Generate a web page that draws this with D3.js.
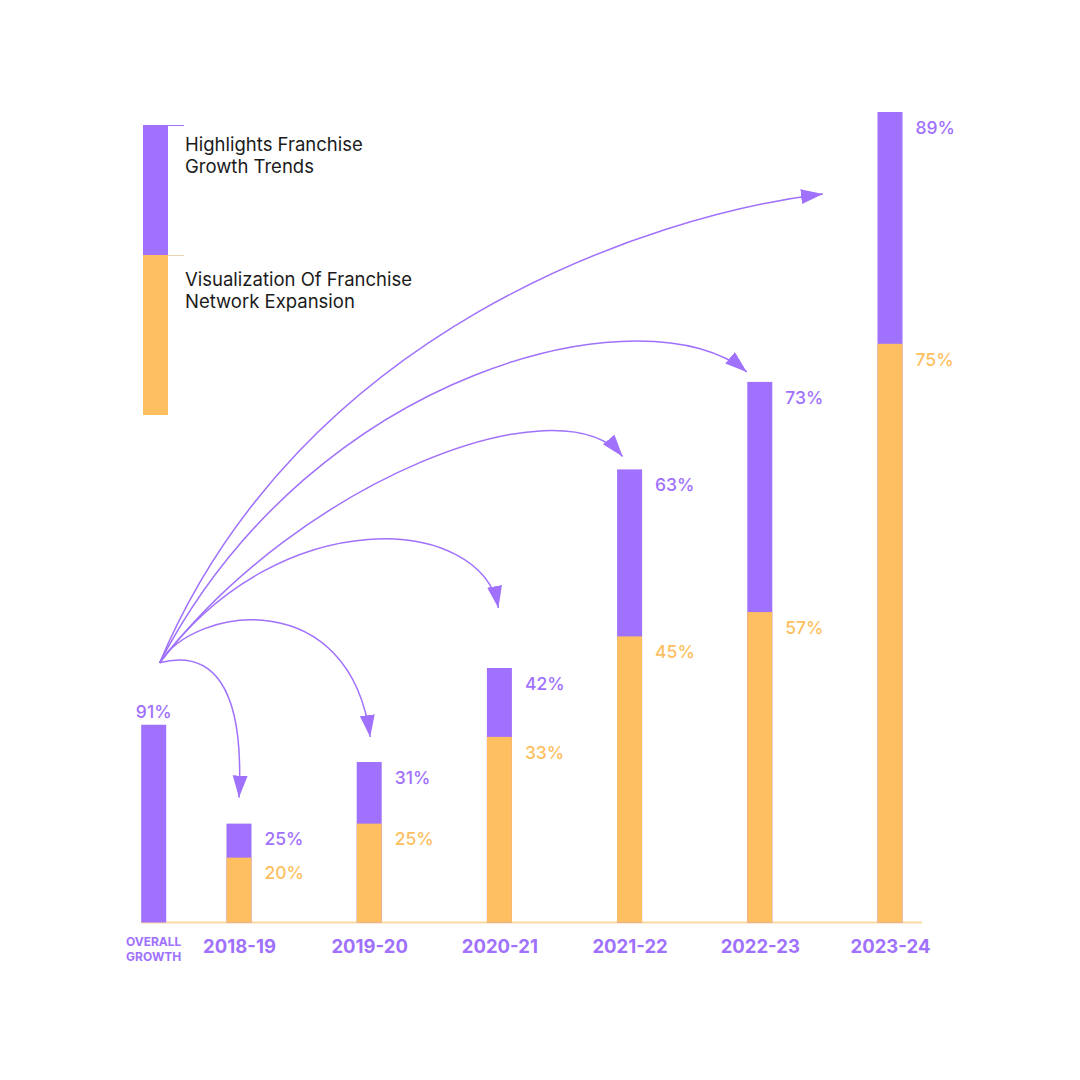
<!DOCTYPE html>
<html>
<head>
<meta charset="utf-8">
<script src="https://cdn.jsdelivr.net/npm/d3@7"></script>
<style>
  html, body { margin: 0; padding: 0; background: #ffffff; }
  svg { display: block; font-family: Inter, "Open Sans", sans-serif; }
</style>
</head>
<body>
<svg id="chart" width="1080" height="1080"></svg>
<script>
// ---------------- DATA ----------------
const years = ["2018-19", "2019-20", "2020-21", "2021-22", "2022-23", "2023-24"];
// value labels shown on the bars
const growthPct  = [25, 31, 42, 63, 73, 89];   // purple – franchise growth
const networkPct = [20, 25, 33, 45, 57, 75];   // orange – network expansion
const overallPct = 91;
// bar extents as drawn in the picture (index, tallest bar = 100)
const growthBarLevel  = [12.2, 19.8, 31.4, 55.9, 66.7, 100];
const networkBarLevel = [8.0, 12.2, 22.9, 35.3, 38.3, 71.4];
const overallBarLevel = 24.4;
const legendLabels = [["Highlights Franchise", "Growth Trends"],
                      ["Visualization Of Franchise", "Network Expansion"]];
const overallLabel = ["OVERALL", "GROWTH"];

// ---------------- STYLE ----------------
const PURPLE = "#A071FC";
const ORANGE = "#FDBF60";
const BASE = "#FDD9A2";

const svg = d3.select("#chart");
svg.append("rect").attr("width", 1080).attr("height", 1080).attr("fill", "#fff");

const x = d3.scalePoint().domain(years).range([239, 890]);
const xOverall = 153.7;
const y = d3.scaleLinear().domain([0, 100]).range([922.5, 112]);
const barW = 25;

// baseline
svg.append("line")
  .attr("x1", 141).attr("x2", 922).attr("y1", y(0)).attr("y2", y(0))
  .attr("stroke", BASE).attr("stroke-width", 2);

// ---------------- LEGEND ----------------
const lg = svg.append("g");
lg.append("rect").attr("x", 143).attr("y", 125).attr("width", 25).attr("height", 130).attr("fill", PURPLE);
lg.append("rect").attr("x", 143).attr("y", 255).attr("width", 25).attr("height", 160).attr("fill", ORANGE);
lg.append("line").attr("x1", 168).attr("x2", 184).attr("y1", 125.5).attr("y2", 125.5)
  .attr("stroke", PURPLE).attr("stroke-width", 1);
lg.append("line").attr("x1", 168).attr("x2", 184).attr("y1", 255.5).attr("y2", 255.5)
  .attr("stroke", "#E8D2B4").attr("stroke-width", 1);
[151, 286].forEach((by, i) => {
  legendLabels[i].forEach((t, j) => {
    lg.append("text").attr("x", 185).attr("y", by + j * 22)
      .attr("font-size", 18.5).attr("fill", "#1b1b1b").text(t);
  });
});

// ---------------- BARS ----------------
const bars = svg.append("g");
// overall
bars.append("rect")
  .attr("x", xOverall - barW / 2).attr("y", y(overallBarLevel))
  .attr("width", barW).attr("height", y(0) - y(overallBarLevel))
  .attr("fill", PURPLE);
bars.append("text")
  .attr("x", xOverall).attr("y", y(overallBarLevel) - 7)
  .attr("text-anchor", "middle").attr("font-size", 17.5).attr("font-weight", 500)
  .attr("fill", PURPLE).text(overallPct + "%");

bars.selectAll(".g").data(years).join("rect")
  .attr("x", d => x(d) - barW / 2)
  .attr("y", (d, i) => y(growthBarLevel[i]))
  .attr("width", barW)
  .attr("height", (d, i) => y(0) - y(growthBarLevel[i]))
  .attr("fill", PURPLE);
bars.selectAll(".n").data(years).join("rect")
  .attr("x", d => x(d) - barW / 2)
  .attr("y", (d, i) => y(networkBarLevel[i]))
  .attr("width", barW)
  .attr("height", (d, i) => y(0) - y(networkBarLevel[i]))
  .attr("fill", ORANGE);

// value labels
const lbl = svg.append("g").attr("font-size", 17.5).attr("font-weight", 500);
years.forEach((d, i) => {
  lbl.append("text").attr("x", x(d) + barW / 2 + 13).attr("y", y(growthBarLevel[i]) + 17)
    .attr("dominant-baseline", "middle").attr("fill", PURPLE).text(growthPct[i] + "%");
  lbl.append("text").attr("x", x(d) + barW / 2 + 13).attr("y", y(networkBarLevel[i]) + 17)
    .attr("dominant-baseline", "middle").attr("fill", ORANGE).text(networkPct[i] + "%");
});

// ---------------- X AXIS LABELS ----------------
const axis = d3.axisBottom(x).tickSize(0).tickPadding(0);
const ax = svg.append("g").attr("transform", `translate(0, ${y(0)})`).call(axis);
ax.select(".domain").remove();
ax.selectAll("text")
  .attr("y", 30).attr("dy", 0)
  .attr("font-family", "Inter, sans-serif")
  .attr("font-size", 18.5).attr("font-weight", 700).attr("fill", PURPLE);

overallLabel.forEach((t, j) => {
  svg.append("text").attr("x", xOverall).attr("y", 946 + j * 15)
    .attr("text-anchor", "middle").attr("font-size", 12).attr("font-weight", 700)
    .attr("fill", PURPLE).text(t);
});

// ---------------- ARROWS (annotation) ----------------
const defs = svg.append("defs");
defs.append("marker").attr("id", "head")
  .attr("markerUnits", "userSpaceOnUse")
  .attr("markerWidth", 23).attr("markerHeight", 16)
  .attr("refX", 22).attr("refY", 7.5).attr("orient", "auto")
  .append("path").attr("d", "M0,0 L22,7.5 L0,15 Z").attr("fill", PURPLE);

const origin = [xOverall + 6, y(overallBarLevel) - 62];
// tip offset from bar (center, top) and two control points (absolute layout)
const arrowLayout = [
  { tip: [0, -26],  c1: [210, 650], c2: [245, 682] },
  { tip: [1, -25],  c1: [195, 605], c2: [350, 585] },
  { tip: [-1, -60], c1: [280, 500], c2: [482, 515] },
  { tip: [-7, -13], c1: [300, 480], c2: [560, 380] },
  { tip: [-13, -10], c1: [315, 365], c2: [650, 290] },
  { tip: [-67, 82], c1: [300, 330], c2: [650, 215] }
];
const arrows = svg.append("g").attr("fill", "none").attr("stroke", PURPLE).attr("stroke-width", 1.5);
years.forEach((d, i) => {
  const L = arrowLayout[i];
  const tx = x(d) + L.tip[0], ty = y(growthBarLevel[i]) + L.tip[1];
  const p = d3.path();
  p.moveTo(origin[0], origin[1]);
  p.bezierCurveTo(L.c1[0], L.c1[1], L.c2[0], L.c2[1], tx, ty);
  arrows.append("path").attr("d", p.toString()).attr("marker-end", "url(#head)");
});
</script>
</body>
</html>
